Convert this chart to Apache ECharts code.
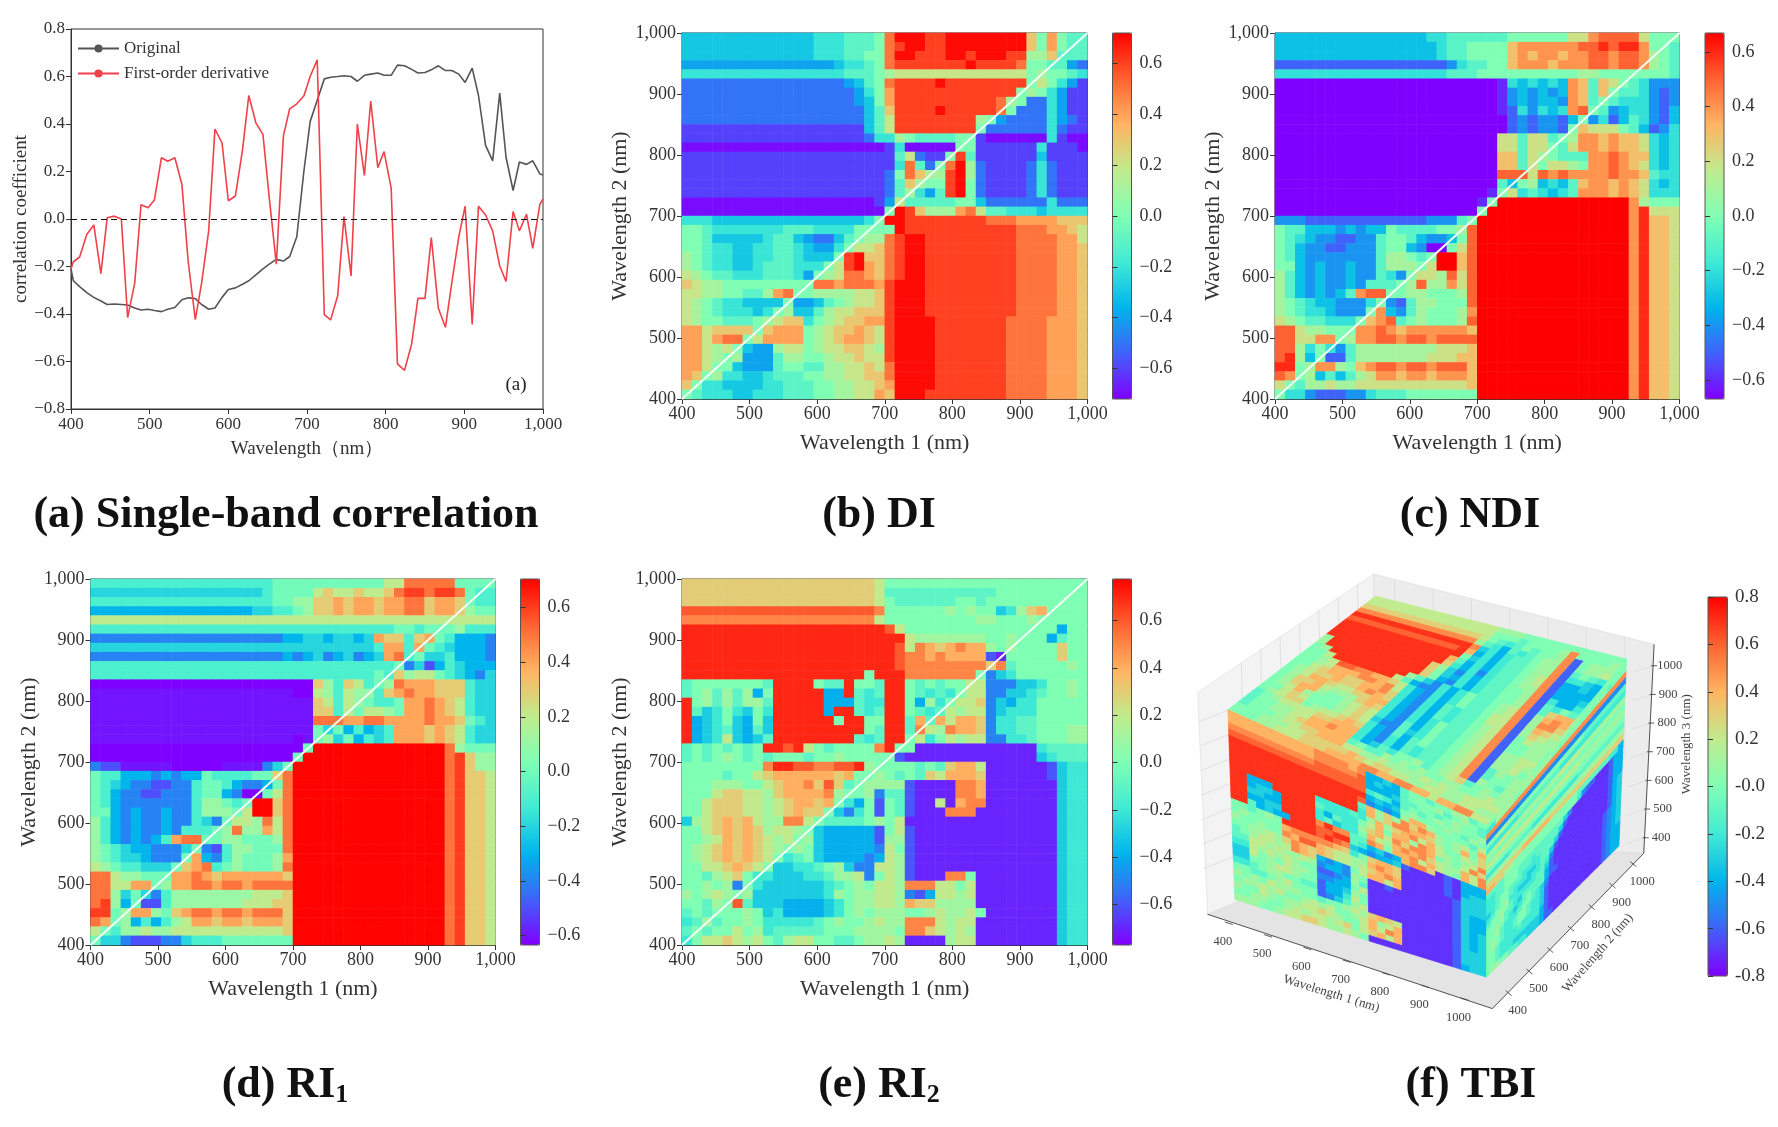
<!DOCTYPE html>
<html><head><meta charset="utf-8">
<style>html,body{margin:0;padding:0;background:#fff}#c{width:1778px;height:1127px}</style>
<script src="https://cdn.jsdelivr.net/npm/echarts@6/dist/echarts.min.js"></script>
</head><body><div id="c"></div>
<script>
// ---------- DATA ----------
const wavelengths=[400,403,411,420,429,438,446,455,464,472,481,489,498,506,515,523,532,541,549,558,566,575,583,592,600,609,618,626,635,644,652,661,670,678,687,696,704,713,722,730,739,747,756,764,773,781,790,798,807,815,824,833,841,850,858,867,876,884,893,901,910,918,927,936,945,953,962,970,979,987,996,1000];
const originalCorr=[-0.21,-0.26,-0.285,-0.31,-0.33,-0.345,-0.36,-0.358,-0.36,-0.362,-0.375,-0.383,-0.38,-0.385,-0.39,-0.38,-0.373,-0.34,-0.332,-0.335,-0.36,-0.38,-0.375,-0.33,-0.297,-0.29,-0.275,-0.26,-0.235,-0.21,-0.19,-0.17,-0.177,-0.158,-0.075,0.2,0.41,0.5,0.59,0.597,0.6,0.603,0.6,0.58,0.605,0.61,0.615,0.605,0.605,0.648,0.645,0.63,0.615,0.617,0.628,0.645,0.625,0.625,0.61,0.575,0.635,0.52,0.31,0.245,0.53,0.26,0.12,0.24,0.23,0.245,0.19,0.185];
const firstDerivCorr=[-0.21,-0.18,-0.16,-0.065,-0.025,-0.23,0.005,0.012,0,-0.415,-0.27,0.06,0.047,0.08,0.258,0.243,0.258,0.145,-0.18,-0.424,-0.27,-0.05,0.379,0.32,0.077,0.097,0.29,0.52,0.405,0.356,0.09,-0.19,0.35,0.464,0.485,0.518,0.6,0.67,-0.403,-0.425,-0.323,0.01,-0.24,0.4,0.183,0.497,0.216,0.284,0.13,-0.61,-0.637,-0.527,-0.334,-0.334,-0.078,-0.376,-0.456,-0.27,-0.074,0.054,-0.444,0.054,0.017,-0.05,-0.198,-0.263,0.032,-0.05,0.02,-0.124,0.062,0.085];
const diagonal=[[400,400],[1000,1000]];
const wavelengthTicks=[400,500,600,700,800,900,1000];
// cell codes: a=-0.8 b=-0.7 ... i=0.0 ... q=0.8 (steps of 0.1). Rows run top (1000 nm) to bottom (400 nm).
const LEVELS={a:-.8,b:-.7,c:-.6,d:-.5,e:-.4,f:-.3,g:-.2,h:-.1,i:0,j:.1,k:.2,l:.3,m:.4,n:.5,o:.6,p:.7,q:.8};
const diRows=[
"ffffffffff fffggghhhi npppoopppp pppplimihh",
"ffffffffff fffggghhhi noppoopppp pppplimihh",
"ffffffffff fffggghhii nppoooppop ppoojjlhhh",
"eeeeeeeeee eeeeefgghi nooooooopo oooniihhed",
"gggggggggg gggggghhhi jkkkkkkkkk kkkkijiihg",
"dddddddddd ddddddefhi noooopoooo ooooikigec",
"dddddddddd dddddddegi mooooooooo oooijigecc",
"dddddddddd dddddddefi mooooooooo onjiddgecc",
"dddddddddd ddddddddfh loooopoooo onidddgecc",
"dddddddddd ddddddddfh kooooooooj ieddddgedc",
"cccccccccc ccccccccfh kooooooooi ddddddgdcc",
"cccccccccc ccccccccdg gjihhhhiic bbbbbbgcbb",
"bbbbbbbbbb bbbbbbbbbb cgbbbbbiic cccccgcccb",
"cccccccccc cccccccccc chkdcciohc cccccfcccc",
"cccccccccc cccccccccc cgnhdinpjd ccccdgdccc",
"cccccccccc cccccccccc dinljjopjd ccccdgdccc",
"cccccccccc cccccccccc dhljiiopid ccccdgdccc",
"cccccccccc cccccccccc dhjgehopid ccccdgdccc",
"bbbbbbbbbb bbbbbbbbbc ekhhhhhiif ddddddgddd",
"bbbbbbbbbb bbbbbbbbbb ipoljjjmnk hhgggfgggg",
"gggfffffff ffffffffgi ppoooooooo nnnmmmmlll",
"iihggggggg hhhggggiii ipoooooooo ooonnnmmlk",
"iihfffffgh hfeddfhijj noppoooooo ooonnnnmmk",
"iihggffggh hgfeegikkl noppoooooo ooonnnnmml",
"jihggffggh hgfffiopll noppoooooo ooonnnnmml",
"jihggffghh hgggikopml noppoooooo ooonnnnmml",
"kjihhggghh hgeijknnml noppoooooo ooonnnnmml",
"lkjjiiiiii iiinnmnnnm opppoooooo ooonnnnmml",
"kkjjiihhjm niijjjjkkl opppoooooo ooonnnnmml",
"kjihggffff ieefhijkkl opppoooooo ooonnnnmml",
"kjihgggfgi jffhjkklll opppoooooo ooonnnnmml",
"kjiihhhijk llgijkllmm oppppooooo oonnnnmmml",
"mmkllllilm mmijkllmlk oppppooooo oonnnnmmml",
"mmkmnnikmm mmijklmmlk oppppooooo oonnnnmmml",
"mmkjkifeej kkijkkllkj oppppooooo oonnnnmmml",
"mmkjijeeeh jjiijkklkk oppppooooo oonnnnmmml",
"mmkiifeeeh iihhjjkklk nppppooooo oonnnnmmml",
"mlijggffgh hhiijjkkll nppppooooo oonnnnmmml",
"liggffffgg hhhiijjkkl mppppooooo oonnnnmmml",
"ihgggffggg hhhiijjkkm lpppoooooo oonnnnmmml"];
const ndiRows=[
"ffffffffff fffffgghhh hhhiiiiiik kmnnnnkiii",
"ffffffffff ffffffghhi iiilmmmmmm nnonoomiih",
"ffffffffff ffffffghhi iiilmlmmlm mnnmnnmjih",
"dddddddddd dddddddegh hiilmmmlmm mnnmnnmjih",
"gggggggggg ggggggghhh iiiiiiiiii jjiiiiiiih",
"bbbbbbbbbb bbbbbbbbbb bbcgfgfgfm lhlkihgeee",
"bbbbbbbbbb bbbbbbbbbb bbcefefefm lhlihhgede",
"bbbbbbbbbb bbbbbbbbbb bbcefeffem lhihgggede",
"bbbbbbbbbb bbbbbbbbbb bbcdgegfgm nihefggedf",
"bbbbbbbbbb bbbbbbbbbb bbbdedeedf iegdfhgedf",
"bbbbbbbbbb bbbbbbbbbb bbbdedeedi lkkkihfdeg",
"bbbbbbbbbb bbbbbbbbbb bbkkhkkhij mmlmllkgfg",
"bbbbbbbbbb bbbbbbbbbb bbkkhkkihk mmlmllkgfg",
"bbbbbbbbbb bbbbbbbbbb bbllhkjihh hmmnmllgfg",
"bbbbbbbbbb bbbbbbbbbb bbllhkikkj immnmlkgfg",
"bbbbbbbbbb bbbbbbbbbb bbnnnknmnm mmmnmmlhgg",
"bbbbbbbbbb bbbbbbbbbb bbhfijfgfh lmmlmlkgfg",
"bbbbbbbbbb bbbbbbbbbb bcikghgfgh mmmlmlkggg",
"bbbbbbbbbb bbbbbbbbbb cipppppppp pppppmjiii",
"bbbbbbbbbb bbbbbbbbbb ippppppppp pppppmokkk",
"eeeddddddd dddddeeehi pppppppppp pppppmollk",
"ihhfffefef fihhhhiijn pppppppppp pppppmollk",
"ihgfeeddee hiihfeefin pppppppppp pppppmollk",
"ihfeeddeee hiifebbikn pppppppppp pppppmollk",
"ihfeeeeeee hjjihippln pppppppppp pppppmollk",
"iifefeefee hjjjikppln pppppppppp pppppmollk",
"jhfefeefee hgeikkjnkn pppppppppp pppppmollk",
"jhfefeefeh hhijnjjmkn pppppppppp pppppmollk",
"jhfefefhmn niijjiiijn pppppppppp pppppmollk",
"jihgffeeeg iedhjjiiin pppppppppp pppppmollk",
"jihggfeeei mfehjiiijm pppppppppp pppppmollk",
"kjihhgggil mnhijiiijn pppppppppp pppppmollk",
"nnkjjiiimm nmlmmmmmml pppppppppp pppppmollk",
"nnkkmmijmm nnmnnmnnnn pppppppppp pppppmollk",
"nnjgigehjj jjjjjjkkkl pppppppppp pppppmollk",
"nojfiddhjj jjjjjkkkll pppppppppp pppppmollk",
"ooijmmjilm nnmnnmnnnl pppppppppp pppppmollk",
"nmijfhfhjk mmlmmlmmml pppppppppp pppppmollk",
"kihjjkjjkk kkkkkkkkkl pppppppppp pppppmollk",
"iggedddeeg hhhiiiiiii pppppppppp pppppmollk"];
const ri1Rows=[
"hhhhhhhhhh hhhhhhhhii iiiiiiiiik knnnnniiii",
"gggggggggg ggggggghii iiklkklkkl noonoonihh",
"hhhhhhhhhh hhhhhhhhii jjllmlmmlm mnnlmmlihh",
"ffffffffff ffffffgghh ijllmlmmlm mnnlmmljii",
"kkkkkkkkkk kkkkkkkkkk kkkkkkkkkk kkkkkkkkkk",
"hhhhhhhhhh hhhhhhhhhh hhhhhhhhhh iihiiijhhh",
"eeeeeeeeee eeeeeeeeef fggfggfgml lhlmihfffe",
"gggggggggg gggggggggg gggggggghm mhmihgfffe",
"eeeeeeeeee eeeeeeeeef efgefgefgm nhigghfffe",
"hhhhhhhhhh hhhhhhhhhh hhhhhhhhhh iegdfhgfff",
"hhhhhhhhhh hhhhhhhhhh hhhhhhhhih ljkkihgfeg",
"bbbbbbbbbb bbbbbbbbbb bbljhlkhij nmmmlllhgg",
"cccccccccc cccccccccc bbkjhkjjhl mnmmlllhgg",
"cccccccccc cccccccccc cclkhkjihh immnmlkhgg",
"cccccccccc cccccccccc ccllhkikkj immnmlkhgg",
"cccccccccc cccccccccc ccnnnmmnnm mmmnmmlihg",
"cccccccccc cccccccccc ccigifhfgh mmmlmlkhgg",
"cccccccccc cccccccccc bcijgifhgh mmmlmlkhgg",
"bbbbbbbbbb bbbbbbbbbb bipppppppp pppppnjiii",
"bbbbbbbbbb bbbbbbbbbb ippppppppp pppppnoljj",
"eddcccccbb bbbccccegi pppppppppp pppppnoljj",
"ihhfffefef fihhhhiiln pppppppppp pppppnollk",
"ihgfeeddee hiihfeefin pppppppppp pppppnollk",
"ihfeeddeee hiifebbikn pppppppppp pppppnollk",
"ihfeeeeeee hjjihippln pppppppppp pppppnollk",
"iifefeefee hjjjikppln pppppppppp pppppnollk",
"jhfefeefee hgeikkjnkn pppppppppp pppppnollk",
"jhfefeefeh hhijnjjmkn pppppppppp pppppnollk",
"jhfefefhmn niijjiiijn pppppppppp pppppnollk",
"jihgffeeeg iedhjjiiin pppppppppp pppppnollk",
"jihggfeeei mfehjiiijm pppppppppp pppppnollk",
"kjihhgggil mnhijiiijn pppppppppp pppppnollk",
"nnkjjiiimm nmlmmmmmml pppppppppp pppppnollk",
"nnkkmmijmm nnmnnmnnnn pppppppppp pppppnollk",
"nnjgigehjj jjjjjjkkkl pppppppppp pppppnollk",
"nojfiddhjj jjjjjkkkll pppppppppp pppppnollk",
"ooijmmjilm nnmnnmnnnl pppppppppp pppppnollk",
"nmijfhfhjk mmlmmlmmml pppppppppp pppppnollk",
"kihjjkjjkk kkkkkkkkkl pppppppppp pppppnollk",
"iggedddeeg hhhiiiiiii pppppppppp pppppnollk"];
const ri2Rows=[
"llllllllll lllllllllk iiiiiiiiii iiiiiiiiii",
"llllllllll lllllllllk hhhhhhhhhh hiiiiiiiii",
"llllllllll lllllllllk ihhhhhhiih iiiiiiiiii",
"oooooooooo ooooooooon iiiiiijiji ifgjlmiiii",
"nnnnnnnnnn nnnnnnnnnk iiiiiiiiij jiiijiiiii",
"pppppppppp pppppppppp okiiiiiiii iiiiiiieii",
"pppppppppp pppppppppp ppkjjjjjjj iijiiiehii",
"pppppppppp pppppppppp poknmlmnmm jijiiiilii",
"pppppppppp pppppppppp ponnmnmmmm cbiiiiilii",
"pppppppppp pppppppppp ponnnnnnnn lnhiiiiiji",
"pppppppppp ppppppppip ppnnnnnnni dfgiiiiiii",
"hiiiiiiihp pppihhpiih ppihihiikk dddffgiiji",
"hijhjhjeip ppppeephgh ppihghgikk ddffghiiji",
"pijhjhjjhp ppppeeehgg ppiejgikkl dfeggiiiii",
"phfgigfigp ppppepphgh ppihghkjkk dfgggiiiii",
"pefgifeifp pppppippii pphmhmkmml dgghhiiiii",
"pefghfehfp ppppppppih pphnkjnmml dgghhiiijj",
"pefgkfefhp ppppppphgh ppikgikjkk ddgghiiijj",
"hihihihipp opkihiiiin piibbbbbbb bbbbbghhhh",
"hihijihihi iihiijiiii icbbbbbbbb bbbbbfghhh",
"iiiiiiiinp poonnoopji iiihihlmmk bbbbbbcfgg",
"iiiihiiklm mmmmmlmiij ihihlkmmml bbbbbbcfgg",
"iiijjjiikl mmnlolhijj jjcbbbbnnm bbbbbbbfgg",
"iiikllkkjl mmmmnjiijd hhcbbbbnnm bbbbbbbfgg",
"iiklllkkjk lmmlmigeic ihcbbkbmnn bbbbbbbfgg",
"iiklllkkjk lmllifdgic ihcbbbnnnb bbbbbbbfgg",
"fjklmlmkjj nnkihhhhij ikbbbbbbbb bbbbbbbfgg",
"iiklmlmljk kjifeeeeec ikcbbbbbbb bbbbbbbfgg",
"iijkmlmlkj kijfeeeeec jjcbbbbbbb bbbbbbbfgg",
"ijklmlmlkj ijifeeeeed kicbbbbbbb bbbbbbbfgg",
"ijklmlmlki ghifeeeede kjcbbbbbbb bbbbbbbfgg",
"iikklmlkif fgghijfddk kjcbbbbbbb bbbbbbbfgg",
"iihjkliggf ffgghjjkdi kjcbbbnnib bbbbbbbfgg",
"iijijdigff ffffghijik kjnnnkkikb bbbbbbbfgg",
"jijkjijfff ffffgjijjk kjdcekkjkb bbbbbbbfgg",
"iihjiohfff eeeefgijjk kjmlljjjjb bbbbbbbfgg",
"hihiiijifg eeeefgijij jjiijkjjki bbbbbbbfgg",
"ghjhiijigg ggghijiijk jjnnnkjkkb bbbbbbbfgg",
"hihiikijgh hhhhiiijjj jinnlkjkjb bbbbbbbfgg",
"gikklkjkih jkkiihhijj kjbbbbjkkb bbbbbbbfgg"];
// TBI cube faces (rows top to bottom, columns left to right as seen)
const tbiLeftRows=[
"mmmmmmmmmm nnnnmneefe hiihiijjhi",
"mmmmmmmmmm nnnnnoefee hiiijhijih",
"nnnnnnnnnn ooooooeeef hhiihijiih",
"oooooooooo ooooooghge hihijijiij",
"pppppppppp ppppppefef ijiiijihji",
"pppppppppp pppppodede jmmjiiiihk",
"pppppppppp ppppphmjlj nlnmjijkim",
"pppppppppp pppppgmjln nmmljijmil",
"pppppppppp gggghgjmjl mnkmkiikjl",
"ppeeeppppp hggggikmim mjnmkjijkn",
"ppeffepppp gehggjlmkn lnnmijiknl",
"ppffeepppp ghfggimkjm nmnlkjjmkn",
"ppeeffpppp npnnhhnmim mnkmkjimkn",
"pphefeeppp oopphgefde mnnlbcbeee",
"iihijipppp oponfedeef cbbbbcbeee",
"ijiiiimnnn nnmlgilmml bbbbbcbeff",
"jiijiinmoo mlkkjjmnml bbbbbcbfff",
"iijjkjlnml mlkkjklmnm bbbbbbcfff",
"hijkkjknml ededikmmkm bbbbbbcfff",
"hhkkjkjjkj deedjibbcb bbbbbbcfee",
"ggkjkjkjii ccdejhbbbb bbbbbbcfee",
"ffkijikjji ddeeikbbbb bbbbbbcfee",
"ffiijkkjii ceefjibbbb bbbbbbcfef",
"gghijjiihh ceegkibbbb bbbbbbcfef",
"iihhijkiii cdfhjkbbbb bbbbbbcfef",
"jijikjjjii hiijkjlmlk bbbbbbcfef",
"ijjkjkiijk jkiijkmjkm bbbbbbcfff",
"jiikjijjkk lkjiikmknm bbbbbbcfff",
"iijjiijkjk kjkliklmkm bbbbbbcfff",
"jjjiijkkll kjjkjibbbb bbbbbbceff"];
const tbiTopRows=[
"kkkkkkkkkk kkkkkjjjii iiiiiiiiii",
"kkkkkkkkkk kkkkkiiihi iiijniiiij",
"llllllllll llllkihghi hiijncijjj",
"nnnnnnnnnn nnnnjhgehg hijjncijjk",
"pppppppppp ppppnfgegh hijjnchihg",
"oooooooooo ooopmegegh hijjncggfe",
"pppppppppp ppppifgegh hijknceefe",
"pppppppppp pppmhegegh hijknceeee",
"pppppppppp ppplgegdgh hijjnceeef",
"pppppppppp ppljfdgegh hiijncgeeg",
"jppppppppp pplifegegh hiijnchgih",
"jppppppppp ppliedgegh hiijnchlmm",
"ijpppppppp pjhfdgegih hijkncjmnm",
"iikppppppp kheddgegih hijkncjnnl",
"iijkoonnmm lkgedgegih hikkncjmlk",
"iijkmmmnnm nkgedgehgh hikkncjlkj",
"iiklmmllmm nlgedgehgh hijkncikjj",
"ijkllmllmn mlgedgehgh hijknciijj",
"ijkmmlkkll mmgedgegih hijknciijj",
"ijllmkjjjl mlgedgegih hijkncjjkk",
"ijlmmjiijk lkgedhegih hijkncjjkj",
"ijkmjiiijk lkfddhfgih hijkncjjki",
"iiklkiiijk lkgedhehih hijknchjij",
"ijkllijkkl mlgedgehgh hijknchiij",
"hijkkkkllm mmgedgehgh hijkncjihj",
"hiijjkkmmn mmgefhgiij hijklhijij",
"hiijjklmmm mmhihhjiji jiijjiijkj",
"hiiijkkllm mmkkjjkjjj jkjkjjkkkk",
"iiijjjkkll lllmlkllkk jjkkjjkkjj",
"iiijjkkkll lmmmmnnmmn nmmkmmnnkk"];
const tbiRightRows=[
"iijjjjjjjj iiiijjjjjj iiiiiiiiii",
"ggjjjjiijj jjjjiiiiii iiiiiihiii",
"nnnnnnnnnn nnnnnnnnnn nnnnnnnnnn",
"dddddddddd dddddddddd dddddddddd",
"iijjjiiiii iiiiiiiiii ihhhhhhhhh",
"ggggggghhh hhhhhhgggg gggggggggg",
"jjkkkjjjjj jjjjjjkkkk jjjjjjjjjj",
"iiiiiiiiii iiiiiiiiii iiiiiiiiii",
"kkkkkkkkkk kkkkkkkkkk jjjjjjjjjj",
"iiiiiiiiii iiiiiiiiii iiiiiiiiii",
"ggggghhhhh gggggggggg hhhhhhhhhh",
"jjjjjjjjjj jjjjjjjjjj jjjjjjjjjj",
"llllllllmm mmmmllllll llllllllll",
"mmlljjiiii iiiiiiiiii hhhhhhhgge",
"hhhhiiiiii iiiiiiiiii gdccbbbcee",
"gghhiiihhh hhhhhhhfdb bbbbbbbcee",
"gghhiiihhh ghhhhhfcbb bbbbbbbcee",
"gghiihhhgg gghhhfcbbb bbbbbbbcee",
"fghiihgggf fghhfcbbbb bbbbbbbcef",
"ghiijggfff gghgdbbbbb bbbbbbbcef",
"hiijihgggg ghhfcbbbbb bbbbbbbcef",
"iiijhhgfhh hhhecbbbbb bbbbbbbcef",
"iijihgfghi hhheccbbbb bbbbbbcdef",
"iijhggghii hgfdbbbbbb bbbbbbcdef",
"ijihgghiih ggfcbbbbbb bbbbbbcdef",
"ijihgghiih ggfcbbbbbb bbbbbbcdef",
"iihgggghgg ggfcbbbbbb bbbbbbcdee",
"iihggggggg ggecbbbbbb bbbbbbcdee",
"iihgggffff ffecbbbbbb bbbbbbcdee",
"ijjiihhggf ffeccbbbbb bbbbbbcdee"];

// ---------- STYLE / LAYOUT ----------
const FONT='"Liberation Serif",serif';
const RAINBOW=['#8000ff','#4062fa','#00b5eb','#40ebd4','#80ffb4','#c0eb8e','#ffb462','#ff6232','#ff0000'];
const TXT='#333';
const minus=v=>{const s=Math.abs(v).toFixed(1);return (v<-1e-9?'\u2212':'')+s;};
const cols=(s,n)=>{let t=s.replace(/ /g,'').slice(0,n);while(t.length<n)t+=t[t.length-1];return t;};
const grids=[],xAxes=[],yAxes=[],series=[],visualMaps=[],titles=[];
const N=40, bandCenters=Array.from({length:N},(_,i)=>400+15*i+7.5);

function valueAxis(o){return Object.assign({type:'value',min:400,max:1000,interval:100,splitLine:{show:false},
 axisLine:{show:true,onZero:false,lineStyle:{color:'#333',width:1}},axisTick:{show:true,length:5,inside:false,lineStyle:{color:'#333'}},
 axisLabel:{color:TXT,fontFamily:FONT,fontSize:18,margin:6},nameLocation:'middle',
 nameTextStyle:{color:TXT,fontFamily:FONT,fontSize:22}},o);}

// panel (a)
grids.push({left:71,top:29,width:472,height:380,show:true,borderColor:'#333',borderWidth:1,backgroundColor:'#fff'});
xAxes.push(valueAxis({gridIndex:0,name:'Wavelength\uff08nm\uff09',nameGap:31,
  nameTextStyle:{color:TXT,fontFamily:FONT,fontSize:19},axisLabel:{color:TXT,fontFamily:FONT,fontSize:17,margin:7}}));
yAxes.push(valueAxis({gridIndex:0,min:-0.8,max:0.8,interval:0.2,name:'correlation coefficient',nameGap:38,
  nameTextStyle:{color:TXT,fontFamily:FONT,fontSize:19},axisLabel:{color:TXT,fontFamily:FONT,fontSize:17,margin:6,formatter:minus}}));
const zip=(xs,ys)=>xs.map((x,i)=>[x,ys[i]]);
series.push({name:'Original',type:'line',xAxisIndex:0,yAxisIndex:0,symbol:'none',data:zip(wavelengths,originalCorr),
  lineStyle:{color:'#555',width:1.6},itemStyle:{color:'#555'},animation:false,
  markLine:{silent:true,symbol:'none',label:{show:false},lineStyle:{color:'#111',type:[6,4],width:1.2},data:[{yAxis:0}],animation:false}});
series.push({name:'First-order derivative',type:'line',xAxisIndex:0,yAxisIndex:0,symbol:'none',data:zip(wavelengths,firstDerivCorr),
  lineStyle:{color:'#f0404a',width:1.6},itemStyle:{color:'#f0404a'},animation:false});

// heatmap panels
const panels=[
 {rows:diRows, x:682, y:33, w:405.5,h:366,bar:1112.5,lo:-.72,hi:.72},
 {rows:ndiRows,x:1275,y:33, w:404.5,h:366,bar:1705,lo:-.67,hi:.67},
 {rows:ri1Rows,x:90.5,y:579,w:405,h:366,bar:520.5,lo:-.635,hi:.705},
 {rows:ri2Rows,x:682, y:579,w:405.5,h:366,bar:1112.5,lo:-.77,hi:.775}];
const cbarTicks=[-.6,-.4,-.2,0,.2,.4,.6];
const catLabels=bandCenters.map(String);
function addColorbar(p,ticks,fmt,fontSize){
  const g=grids.length;
  grids.push({left:p.bar,top:p.y,width:19,height:p.h,show:true,borderColor:'#555',borderWidth:1,z:6});
  xAxes.push({type:'value',gridIndex:g,show:false,min:0,max:1});
  yAxes.push({type:'value',gridIndex:g,position:'right',min:p.lo,max:p.hi,splitLine:{show:false},z:7,
    axisLine:{show:false},
    axisTick:{show:true,length:5,inside:false,lineStyle:{color:'#333'},customValues:ticks},
    axisLabel:{show:true,color:TXT,fontFamily:FONT,fontSize:fontSize,margin:8,customValues:ticks,formatter:fmt}});
}
panels.forEach((p)=>{
  const g=grids.length;
  grids.push({left:p.x,top:p.y,width:p.w,height:p.h,show:true,borderColor:'#333',borderWidth:1});
  const xc=xAxes.length, yc=yAxes.length;
  xAxes.push({type:'category',gridIndex:g,data:catLabels,show:false});
  yAxes.push({type:'category',gridIndex:g,data:catLabels,show:false});
  xAxes.push(valueAxis({gridIndex:g,name:'Wavelength 1 (nm)',nameGap:33,position:'bottom'}));
  yAxes.push(valueAxis({gridIndex:g,name:'Wavelength 2 (nm)',nameGap:44,position:'left'}));
  const cells=[];
  p.rows.forEach((row,r)=>{const t=cols(row,N);for(let c=0;c<N;c++)cells.push([c,N-1-r,LEVELS[t[c]]]);});
  const si=series.length;
  series.push({type:'heatmap',xAxisIndex:xc,yAxisIndex:yc,data:cells,progressive:0,animation:false,silent:true,z:2});
  series.push({type:'line',xAxisIndex:xc+1,yAxisIndex:yc+1,data:diagonal,symbol:'none',silent:true,animation:false,
    lineStyle:{color:'#f4fff8',width:2},z:3});
  visualMaps.push({type:'continuous',seriesIndex:si,dimension:2,min:p.lo,max:p.hi,left:p.bar,top:p.y,itemWidth:19,itemHeight:p.h,
    padding:0,text:null,calculable:false,inRange:{color:RAINBOW},orient:'vertical',hoverLink:false,textStyle:{fontSize:0}});
  addColorbar(p,cbarTicks,minus,18);
});

// ---------- TBI cube ----------
const zx=x=>1180+x/2.609, zy=y=>550+y/2.704;
const P=(x,y)=>[zx(x),zy(y)];
const lerp=(a,b,t)=>[a[0]+(b[0]-a[0])*t,a[1]+(b[1]-a[1])*t];
const faces=[
 {rows:tbiTopRows, q:[P(510,125),P(1165,295),P(800,745),P(125,432)]},
 {rows:tbiLeftRows,q:[P(125,432),P(800,745),P(800,1155),P(143,945)]},
 {rows:tbiRightRows,q:[P(800,745),P(1165,295),P(1145,800),P(800,1155)]}];
const FN=30;
const cubeCells=[];
faces.forEach((f,k)=>f.rows.forEach((row,r)=>{const t=cols(row,FN);for(let c=0;c<FN;c++)cubeCells.push([k,c,r,LEVELS[t[c]]]);}));
const bil=(q,u,v)=>lerp(lerp(q[0],q[1],u),lerp(q[3],q[2],u),v);
const tbiIdx=series.length;
series.push({type:'custom',coordinateSystem:'none',data:cubeCells,animation:false,silent:true,z:2,
 renderItem:(params,api)=>{
  const q=faces[api.value(0)].q,c=api.value(1),r=api.value(2),col=api.visual('color');
  const pts=[bil(q,c/FN,r/FN),bil(q,(c+1)/FN,r/FN),bil(q,(c+1)/FN,(r+1)/FN),bil(q,c/FN,(r+1)/FN)];
  return {type:'polygon',shape:{points:pts},style:{fill:col,stroke:col,lineWidth:.8}};
 }});
const fBar={bar:1708,y:597,h:379,lo:-.8,hi:.8};
visualMaps.push({type:'continuous',seriesIndex:tbiIdx,dimension:3,min:-.8,max:.8,left:1708,top:597,itemWidth:20,itemHeight:379,
  padding:0,text:null,calculable:false,inRange:{color:RAINBOW},orient:'vertical',hoverLink:false,textStyle:{fontSize:0}});
addColorbar(fBar,[-.8,-.6,-.4,-.2,0,.2,.4,.6,.8],v=>(v<.05&&v>-.05)?'-0.0':v.toFixed(1),19);

// cube walls, grid, ticks, labels
const gfx=[];
const poly=(pts,fill)=>gfx.push({type:'polygon',shape:{points:pts},style:{fill,stroke:'#dcdcdc',lineWidth:.6},z:0,silent:true});
const seg=(a,b,c,w)=>gfx.push({type:'line',shape:{x1:a[0],y1:a[1],x2:b[0],y2:b[1]},style:{stroke:c,lineWidth:w},z:0,silent:true});
const txt=(p,s,size,rot,c)=>gfx.push({type:'text',x:p[0],y:p[1],rotation:rot||0,silent:true,z:1,
  style:{text:s,fill:c||'#444',font:size+'px '+FONT,textAlign:'center',textVerticalAlign:'middle'}});
const wallL=[P(72,985),P(46,385),P(505,65),P(520,790)];
const wallR=[P(505,65),P(1237,255),P(1210,820),P(520,790)];
const floorQ=[P(72,985),P(520,790),P(1210,820),P(815,1240)];
poly(wallL,'#f3f3f3');poly(wallR,'#ececec');poly(floorQ,'#e4e4e4');
const xT0=P(130,1010),xT1=P(745,1215),yT0=P(855,1197),yT1=P(1180,848),zT0=P(1215,778),zT1=P(1237,313);
wavelengthTicks.forEach(w=>{
  const t=(w-400)/600;
  const px=lerp(xT0,xT1,t),py=lerp(yT0,yT1,t),pz=lerp(zT0,zT1,t);
  // wall grid
  const topB=lerp(P(560,80),P(1160,232),t); seg(topB,[topB[0],topB[1]+120],'#d8d8d8',.7);
  const topL=lerp(P(463,92),P(160,305),t); seg(topL,[topL[0]+2,topL[1]+90],'#d8d8d8',.7);
  const leftZ=lerp(P(60,862),P(48,465),t); seg(leftZ,[leftZ[0]+70,leftZ[1]-28],'#d8d8d8',.7);
  seg(pz,[pz[0]-20,pz[1]+6],'#d8d8d8',.7);
  // ticks
  seg([px[0]-5,px[1]-1.5],[px[0]+3,px[1]+1],'#333',.8);
  seg([py[0]-2,py[1]-2],[py[0]+4,py[1]+3],'#333',.8);
  seg([pz[0]-3,pz[1]],[pz[0]+3,pz[1]],'#333',.8);
  txt([px[0]-7,px[1]+18],String(w),12.5);
  txt([py[0]+10,py[1]+18],String(w),12.5);
  txt([pz[0]+15.5,pz[1]],String(w),12.5);
});
seg(P(72,985),P(815,1240),'#444',.9);
seg(P(815,1240),P(1210,820),'#444',.9);
seg(P(1210,820),P(1237,255),'#444',.9);
txt(P(395,1200),'Wavelength 1 (nm)',13,-0.3);
txt(P(1090,1090),'Wavelength 2 (nm)',13,0.85);
txt(P(1322,525),'Wavelength 3 (nm)',13,Math.PI/2);
gfx.push({type:'text',x:516,y:385,silent:true,z:5,style:{text:'(a)',fill:'#222',font:'19px '+FONT,textAlign:'center',textVerticalAlign:'middle'}});

// captions
const CAP=44;
const capRich={p:{fontFamily:FONT,fontSize:CAP,color:'#111'},b:{fontFamily:FONT,fontSize:CAP,fontWeight:'bold',color:'#111'},
  s:{fontFamily:FONT,fontSize:26,color:'#111',verticalAlign:'bottom',padding:[12,0,0,0]}};
const capAt=(x,y,t)=>titles.push({text:t,left:x,top:y,textAlign:'center',padding:0,textStyle:{rich:capRich,fontFamily:FONT,fontSize:CAP}});
const capLow=1064, capHigh=494;
capAt(286,capHigh,'{p|(}{b|a}{p|) Single-band correlation}');
capAt(879,capHigh,'{p|(}{b|b}{p|) DI}');
capAt(1470,capHigh,'{p|(}{b|c}{p|) NDI}');
capAt(285,capLow,'{p|(}{b|d}{p|) RI}{s|1}');
capAt(879,capLow,'{p|(}{b|e}{p|) RI}{s|2}');
capAt(1471,capLow,'{p|(}{b|f}{p|) TBI}');

const chart=echarts.init(document.getElementById('c'),null,{renderer:'canvas',width:1778,height:1127});
chart.setOption({animation:false,backgroundColor:'#fff',title:titles,grid:grids,xAxis:xAxes,yAxis:yAxes,visualMap:visualMaps,
  series:series,graphic:{elements:gfx},tooltip:{show:false},
  legend:{data:['Original','First-order derivative'],orient:'vertical',left:77,top:40,itemWidth:41,itemHeight:10,itemGap:8,padding:0,
    textStyle:{color:TXT,fontFamily:FONT,fontSize:17},selectedMode:false}});
</script></body></html>
